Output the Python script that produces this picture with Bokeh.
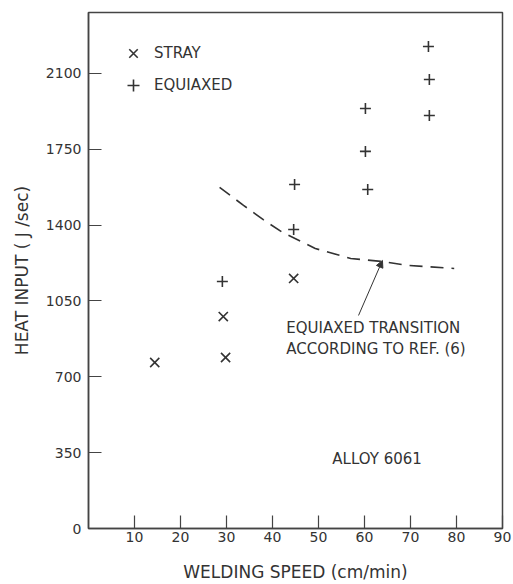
from bokeh.plotting import figure
from bokeh.models import (Range1d, FixedTicker, Legend, LegendItem, Label, Arrow, NormalHead)
from bokeh.embed import file_html
from bokeh.resources import INLINE

# data
stray_x = [14.4, 29.3, 29.8, 44.6]
stray_y = [766, 978, 789, 1154]
equi_x = [29.1, 44.6, 44.8, 60.7, 60.2, 60.2, 74.1, 74.1, 73.9]
equi_y = [1140, 1380, 1587, 1564, 1740, 1938, 1906, 2072, 2224]
curve_x = [28.5, 33.7, 38.0, 42.2, 49.3, 57.0, 63.9, 69.3, 79.5]
curve_y = [1574, 1491, 1425, 1366, 1292, 1246, 1232, 1214, 1200]
x_ticks = [10, 20, 30, 40, 50, 60, 70, 80, 90]
y_ticks = [0, 350, 700, 1050, 1400, 1750, 2100]

INK = "#333333"
FONT = "DejaVu Sans"

p = figure(width=513, height=584, output_backend="svg", toolbar_location=None,
           x_range=Range1d(0, 90), y_range=Range1d(0, 2381),
           min_border_left=88, min_border_right=11, min_border_top=12, min_border_bottom=56)
p.grid.visible = False
p.background_fill_color = "white"
p.border_fill_color = "white"
p.outline_line_color = "#444444"
p.outline_line_width = 1.5

for ax in (p.xaxis[0], p.yaxis[0]):
    ax.axis_line_color = "#444444"
    ax.axis_line_width = 1.5
    ax.major_tick_line_color = "#444444"
    ax.major_tick_line_width = 1.2
    ax.major_tick_in = 13
    ax.major_tick_out = 0
    ax.minor_tick_line_color = None
    ax.major_label_text_font = FONT
    ax.major_label_text_font_size = "14px"
    ax.major_label_text_color = INK
    ax.axis_label_text_font = FONT
    ax.axis_label_text_font_style = "normal"
    ax.axis_label_text_color = INK
    ax.axis_label_text_font_size = "17px"

p.xaxis.ticker = FixedTicker(ticks=x_ticks)
p.yaxis.ticker = FixedTicker(ticks=y_ticks)
p.xaxis.major_label_standoff = 3
p.yaxis.major_label_standoff = 7
p.xaxis.axis_label = "WELDING SPEED (cm/min)"
p.yaxis.axis_label = "HEAT INPUT ( J /sec)"
p.xaxis.axis_label_standoff = 17
p.yaxis.axis_label_standoff = 11

r_stray = p.scatter(stray_x, stray_y, marker="x", size=13, line_color=INK, line_width=1.6)
r_equi = p.scatter(equi_x, equi_y, marker="cross", size=11, line_color=INK, line_width=1.6)

p.line(curve_x, curve_y, line_color=INK, line_width=1.6, line_dash="13 8")

p.add_layout(Arrow(end=NormalHead(size=7, fill_color=INK, line_color=INK),
                   x_start=58.7, y_start=983, x_end=63.9, y_end=1237,
                   line_color=INK, line_width=1))

for txt, x, y in [("EQUIAXED TRANSITION", 43.0, 927),
                  ("ACCORDING TO REF. (6)", 43.0, 826),
                  ("ALLOY 6061", 53.0, 323)]:
    p.add_layout(Label(x=x, y=y, text=txt, text_font=FONT, text_font_size="15px",
                       text_color=INK, text_baseline="middle", text_align="left"))

legend = Legend(items=[LegendItem(label="STRAY", renderers=[r_stray]),
                       LegendItem(label="EQUIAXED", renderers=[r_equi])],
                location=(30, 428), padding=0, margin=0, spacing=2,
                glyph_width=30, glyph_height=30, label_standoff=6,
                border_line_color=None, background_fill_alpha=0,
                label_text_font=FONT, label_text_font_size="15px", label_text_color=INK)
p.add_layout(legend)

open("out.html", "w").write(file_html(p, INLINE))
